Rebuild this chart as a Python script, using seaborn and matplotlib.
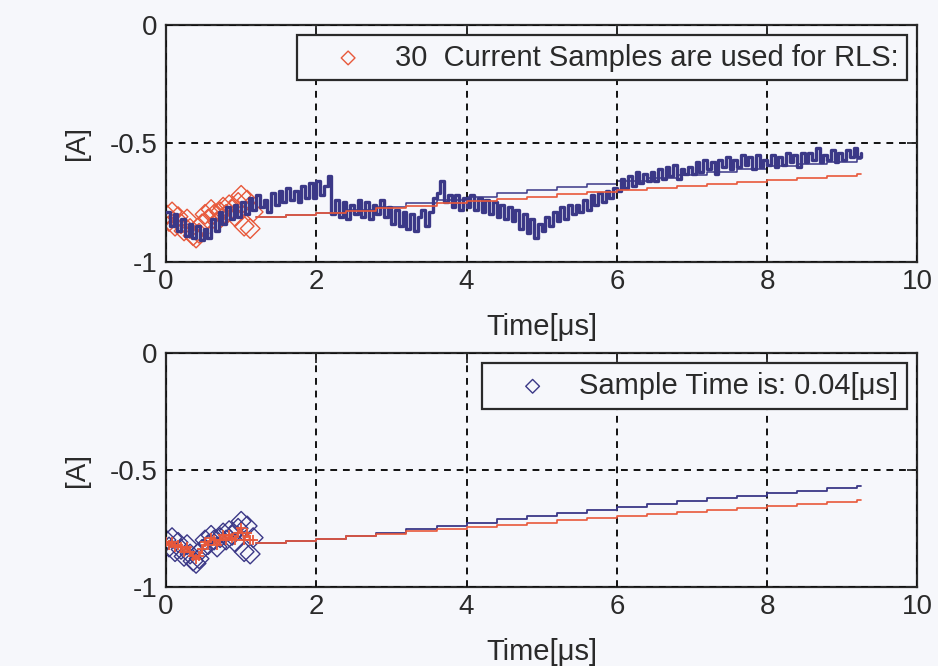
import numpy as np
import pandas as pd
import matplotlib
matplotlib.use("Agg")
import matplotlib.pyplot as plt
import seaborn as sns

# ---------------- data ----------------
signal_dt = 0.05  # spacing of the measured current trace [us]
current_signal = [
    -0.79, -0.85, -0.80, -0.87, -0.82, -0.89, -0.84, -0.90, -0.85, -0.91,
    -0.86, -0.90, -0.82, -0.87, -0.79, -0.84, -0.77, -0.82, -0.76, -0.81,
    -0.75, -0.80, -0.73, -0.78, -0.72, -0.77, -0.74, -0.79, -0.71, -0.76,
    -0.70, -0.75, -0.69, -0.74, -0.70, -0.75, -0.68, -0.73, -0.67, -0.73,
    -0.66, -0.72, -0.68, -0.64, -0.80, -0.74, -0.81, -0.75, -0.82, -0.76,
    -0.80, -0.74, -0.81, -0.75, -0.82, -0.76, -0.80, -0.74, -0.81, -0.77,
    -0.84, -0.78, -0.85, -0.79, -0.86, -0.80, -0.87, -0.81, -0.78, -0.85,
    -0.79, -0.73, -0.71, -0.66, -0.75, -0.72, -0.77, -0.72, -0.78, -0.73,
    -0.77, -0.72, -0.78, -0.73, -0.79, -0.74, -0.80, -0.75, -0.81, -0.76,
    -0.82, -0.77, -0.83, -0.78, -0.86, -0.80, -0.88, -0.82, -0.90, -0.84,
    -0.87, -0.81, -0.85, -0.79, -0.83, -0.77, -0.82, -0.76, -0.80, -0.76,
    -0.79, -0.74, -0.78, -0.72, -0.76, -0.71, -0.75, -0.70, -0.73, -0.69,
    -0.70, -0.65, -0.69, -0.64, -0.68, -0.62, -0.67, -0.63, -0.66, -0.62,
    -0.66, -0.61, -0.65, -0.60, -0.64, -0.59, -0.65, -0.61, -0.63, -0.60,
    -0.63, -0.58, -0.62, -0.57, -0.61, -0.58, -0.63, -0.57, -0.60, -0.56,
    -0.61, -0.57, -0.60, -0.55, -0.59, -0.56, -0.61, -0.55, -0.60, -0.57,
    -0.59, -0.55, -0.60, -0.56, -0.59, -0.54, -0.58, -0.55, -0.60, -0.54,
    -0.58, -0.54, -0.57, -0.52, -0.58, -0.55, -0.57, -0.53, -0.58, -0.54,
    -0.57, -0.53, -0.56, -0.52, -0.56, -0.54,
]

sample_dt = 0.04  # RLS sample time [us]
rls_samples = [
    -0.80, -0.83, -0.79, -0.85, -0.81, -0.84, -0.87, -0.82, -0.86, -0.89,
    -0.90, -0.88, -0.84, -0.80, -0.82, -0.78, -0.80, -0.83, -0.79, -0.77,
    -0.80, -0.76, -0.78, -0.81, -0.75, -0.72, -0.85, -0.74, -0.86, -0.79,
]
rls_estimate = [
    -0.81, -0.82, -0.81, -0.83, -0.82, -0.83, -0.85, -0.83, -0.85, -0.87,
    -0.88, -0.87, -0.84, -0.81, -0.82, -0.79, -0.80, -0.82, -0.80, -0.78,
    -0.80, -0.78, -0.79, -0.80, -0.77, -0.75, -0.80, -0.77, -0.80, -0.80,
]

fit_time = [1.2, 1.6, 2.0, 2.4, 2.8, 3.2, 3.6, 4.0, 4.4, 4.8, 5.2, 5.6,
            6.0, 6.4, 6.8, 7.2, 7.6, 8.0, 8.4, 8.8, 9.2, 9.25]
red_fit = [-0.812, -0.803, -0.794, -0.784, -0.773, -0.763, -0.753, -0.744,
           -0.735, -0.726, -0.716, -0.707, -0.698, -0.690, -0.681, -0.673,
           -0.664, -0.656, -0.648, -0.639, -0.630, -0.630]
blue_fit = [-0.812, -0.804, -0.795, -0.782, -0.768, -0.754, -0.740, -0.726,
            -0.712, -0.698, -0.685, -0.671, -0.658, -0.646, -0.634, -0.622,
            -0.610, -0.598, -0.589, -0.579, -0.568, -0.568]

x_ticks = [0, 2, 4, 6, 8, 10]
y_ticks = [-1, -0.5, 0]
y_ticklabels = ["-1", "-0.5", "0"]
legend_top = "30  Current Samples are used for RLS:"
legend_bottom = "Sample Time is: 0.04[\u03bcs]"
x_label = "Time[\u03bcs]"
y_label = "[A]"

# ---------------- frames ----------------
sig_df = pd.DataFrame({"t": np.arange(len(current_signal)) * signal_dt,
                       "i": current_signal})
smp_df = pd.DataFrame({"t": np.arange(len(rls_samples)) * sample_dt,
                       "i": rls_samples, "est": rls_estimate})
fit_df = pd.DataFrame({"t": fit_time, "red": red_fit, "blue": blue_fit})

# ---------------- style ----------------
sns.set_theme(style="white")
bg = "#f6f7fb"
plt.rcParams["font.family"] = ["Liberation Sans", "DejaVu Sans"]
plt.rcParams["axes.unicode_minus"] = False

NAVY = "#3b3887"
RED = "#e8583a"
INK = "#2a2a2a"

fig = plt.figure(figsize=(9.38, 6.66), dpi=100, facecolor=bg)
ax1 = fig.add_axes([0.177, 0.607, 0.801, 0.356])
ax2 = fig.add_axes([0.177, 0.119, 0.801, 0.351])

for ax in (ax1, ax2):
    ax.set_facecolor(bg)

# top panel
sns.lineplot(data=sig_df, x="t", y="i", ax=ax1, color=NAVY, lw=2.4,
             estimator=None, drawstyle="steps-post", zorder=3)
sns.lineplot(data=fit_df, x="t", y="blue", ax=ax1, color=NAVY, lw=1.1,
             estimator=None, drawstyle="steps-post", zorder=2)
sns.lineplot(data=fit_df, x="t", y="red", ax=ax1, color=RED, lw=1.2,
             estimator=None, drawstyle="steps-post", zorder=4)
sns.scatterplot(data=smp_df, x="t", y="i", ax=ax1, marker="D", s=100,
                facecolors="none", edgecolor=RED, linewidth=1.0,
                label=legend_top, zorder=2.5)

# bottom panel
sns.lineplot(data=fit_df, x="t", y="blue", ax=ax2, color=NAVY, lw=1.3,
             estimator=None, drawstyle="steps-post", zorder=3)
sns.lineplot(data=fit_df, x="t", y="red", ax=ax2, color=RED, lw=1.2,
             estimator=None, drawstyle="steps-post", zorder=4)
sns.scatterplot(data=smp_df, x="t", y="i", ax=ax2, marker="D", s=100,
                facecolors="none", edgecolor=NAVY, linewidth=1.0,
                label=legend_bottom, zorder=2.5)
sns.lineplot(data=smp_df, x="t", y="est", ax=ax2, color=RED, lw=1.3,
             estimator=None, marker="+", markersize=7, markeredgewidth=1.3,
             markeredgecolor=RED, zorder=4)

for ax in (ax1, ax2):
    ax.set_xlim(0, 10)
    ax.set_ylim(-1, 0)
    ax.set_xticks(x_ticks)
    ax.set_xticklabels([str(v) for v in x_ticks])
    ax.set_yticks(y_ticks)
    ax.set_yticklabels(y_ticklabels)
    ax.tick_params(direction="in", top=True, right=True, length=7,
                   width=1.3, colors=INK, labelsize=20, pad=6)
    ax.tick_params(axis="x", pad=5)
    for side in ("top", "bottom", "left", "right"):
        ax.spines[side].set_visible(True)
        ax.spines[side].set_color(INK)
        ax.spines[side].set_linewidth(1.6)
    ax.grid(True, color="#111111", linestyle=(0, (3.5, 3.0)), linewidth=1.4)
    ax.set_axisbelow(False)
    for gl in ax.get_xgridlines() + ax.get_ygridlines():
        gl.set_zorder(1)
    ax.set_xlabel(x_label, fontsize=21, color=INK, labelpad=13)
    ax.set_ylabel(y_label, fontsize=20, color=INK, labelpad=14)
    leg = ax.legend(loc="upper right", fontsize=21, frameon=True,
                    fancybox=False, framealpha=1, facecolor=bg,
                    edgecolor=INK, borderpad=0.3, handletextpad=0.15,
                    handlelength=2.9, borderaxespad=0.35, markerscale=0.7)
    leg.get_frame().set_linewidth(1.6)
    for t in leg.get_texts():
        t.set_color(INK)

fig.savefig("out.png", dpi=100, facecolor=bg)
